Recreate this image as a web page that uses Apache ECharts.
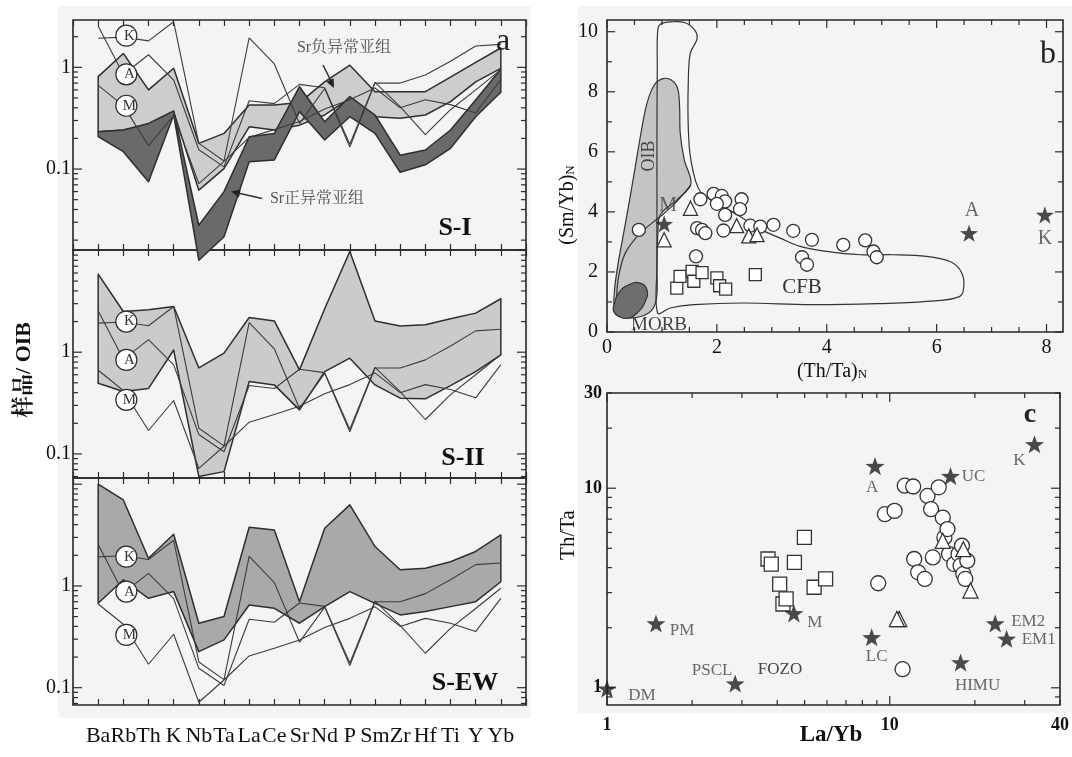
<!DOCTYPE html>
<html><head><meta charset="utf-8">
<script src="https://cdn.jsdelivr.net/npm/echarts@6/dist/echarts.min.js"></script>
<style>html,body{margin:0;padding:0;background:#fff}#c{width:1072px;height:757px}</style>
</head><body><div id="c"></div>
<script>
// ---------------- DATA ----------------
const elements = ['Ba','Rb','Th','K','Nb','Ta','La','Ce','Sr','Nd','P','Sm','Zr','Hf','Ti','Y','Yb'];
// reference curves (sample / OIB)
const refK = [1.93,1.98,1.82,2.81,0.179,0.12,1.95,1.08,0.28,0.62,0.165,0.70,0.70,0.84,1.15,1.62,1.68];
const refA = [2.55,0.85,1.33,0.75,0.155,0.105,0.47,0.44,0.68,0.63,0.175,0.71,0.41,0.218,0.383,0.60,0.95];
const refM = [0.665,0.42,0.17,0.335,0.072,0.119,0.205,0.244,0.294,0.39,0.48,0.626,0.40,0.48,0.43,0.356,0.756];
// S-I : Sr negative subgroup (light) and Sr positive subgroup (dark)
const s1NegUpper = [0.81,1.37,0.60,0.98,0.179,0.224,0.426,0.426,0.45,0.72,1.05,0.576,0.576,0.576,0.80,1.12,1.55];
const s1NegLower = [0.233,0.242,0.27,0.367,0.062,0.101,0.26,0.242,0.27,0.34,0.496,0.327,0.315,0.34,0.46,0.72,0.977];
const s1PosUpper = [0.233,0.242,0.281,0.372,0.028,0.060,0.208,0.224,0.645,0.292,0.515,0.34,0.137,0.154,0.242,0.477,0.963];
const s1PosLower = [0.208,0.148,0.075,0.34,0.0127,0.0216,0.118,0.123,0.367,0.193,0.327,0.224,0.093,0.11,0.16,0.327,0.568];
// S-II band
const s2Upper = [5.85,2.51,2.61,2.81,0.70,0.98,2.19,2.03,0.67,2.67,9.77,2.03,1.81,1.86,2.13,2.42,3.35];
const s2Lower = [0.496,0.41,0.44,1.05,0.060,0.067,0.515,0.477,0.271,0.645,0.873,0.477,0.353,0.348,0.47,0.645,0.94];
// S-EW band
const s3Upper = [10.0,7.0,1.87,3.22,0.43,0.50,3.77,3.55,0.70,3.69,6.26,2.44,1.44,1.49,1.73,2.18,3.17];
const s3Lower = [0.675,1.15,0.756,0.88,0.226,0.295,0.65,0.603,0.43,0.626,0.88,0.675,0.519,0.56,0.626,0.70,1.10];
// circled K / A / M tags (value at Rb) per panel
const tagNames = ['K','A','M'];
const tagS1 = [2.05,0.853,0.419];
const tagS2 = [2.0,0.84,0.34];
const tagS3 = [1.94,0.88,0.33];
const leftTickLabels = ['0.1','1'];

// panel b : (Th/Ta)N vs (Sm/Yb)N
const bCircles = [[0.58,3.40],[1.70,4.42],[1.94,4.60],[2.09,4.53],[2.15,4.35],[2.00,4.27],[2.45,4.42],[2.42,4.09],[2.15,3.90],[1.64,3.46],[1.73,3.40],[1.79,3.29],[2.12,3.38],[2.61,3.54],[2.79,3.51],[3.03,3.57],[3.39,3.37],[3.73,3.07],[4.30,2.90],[4.70,3.05],[4.85,2.68],[4.91,2.49],[3.55,2.49],[3.64,2.24],[1.62,2.52]];
const bTriangles = [[1.52,4.12],[1.04,3.07],[2.36,3.54],[2.58,3.20],[2.73,3.24]];
const bSquares = [[1.27,1.46],[1.33,1.85],[1.55,2.02],[1.58,1.69],[1.73,1.98],[2.00,1.80],[2.05,1.54],[2.16,1.43],[2.70,1.91]];
const bStarNames = ['M','A','K'];
const bStars = [[1.04,3.60],[6.59,3.29],[7.97,3.90]];
const bFieldOIB = [[0.152,0.687],[0.133,1.297],[0.194,2.184],[0.303,3.293],[0.412,4.401],[0.515,5.510],[0.618,6.619],[0.727,7.616],[0.861,8.226],[1.018,8.437],[1.170,8.392],[1.285,8.115],[1.321,7.506],[1.333,6.619],[1.406,5.732],[1.527,4.933],[1.273,4.401],[0.970,3.902],[0.927,3.293],[0.909,2.184],[0.897,1.075],[0.758,0.632],[0.364,0.466]];
const bFieldCFB = [[0.921,0.632],[0.909,2.184],[0.909,4.401],[0.909,6.619],[0.915,8.836],[0.921,10.0],[0.970,10.25],[1.182,10.33],[1.424,10.3],[1.606,10.03],[1.636,9.745],[1.515,9.279],[1.479,8.282],[1.479,6.840],[1.527,5.732],[1.697,4.678],[2.061,4.235],[2.424,3.847],[2.788,3.426],[3.152,3.126],[3.515,2.849],[4.0,2.683],[4.606,2.572],[5.212,2.572],[5.818,2.517],[6.242,2.350],[6.424,2.073],[6.497,1.630],[6.424,1.186],[5.818,1.020],[4.909,0.942],[3.697,0.909],[2.485,0.965],[1.576,0.909],[1.152,0.798]];
const bFieldEdge = [[0.170,1.020],[0.212,1.851],[0.333,2.627],[0.606,3.293],[0.970,3.847],[1.242,4.290],[1.527,4.900]];
const bFieldMORB = [[0.121,0.854],[0.212,1.297],[0.394,1.574],[0.606,1.630],[0.727,1.408],[0.697,1.020],[0.576,0.687],[0.394,0.466],[0.212,0.521],[0.121,0.687]];
const bXTickLabels = [0,2,4,6,8];
const bYTickLabels = [0,2,4,6,8,10];

// panel c : La/Yb vs Th/Ta (log-log)
const cStarNames = ['DM','PM','PSCL','M','LC','A','UC','K','EM2','EM1','HIMU'];
const cStars = [[1.0,0.99],[1.49,2.10],[2.84,1.05],[4.58,2.36],[8.63,1.79],[8.87,12.9],[16.4,11.5],[32.5,16.6],[23.6,2.10],[25.9,1.76],[17.8,1.34]];
const cCircles = [[9.1,3.34],[9.61,7.41],[10.4,7.7],[11.1,1.24],[11.3,10.3],[12.1,10.2],[12.2,4.42],[12.6,3.79],[13.3,3.51],[13.6,9.15],[14.0,7.85],[14.2,4.5],[14.9,10.1],[15.4,7.13],[15.6,5.67],[16.0,6.24],[16.2,4.68],[16.9,4.17],[17.5,4.68],[17.8,4.09],[18.0,5.15],[18.2,3.72],[18.8,4.33],[18.5,3.51]];
const cTriangles = [[15.4,5.45],[18.2,4.95],[19.3,3.07],[10.8,2.21],[10.6,2.21]];
const cSquares = [[3.71,4.42],[3.81,4.17],[4.99,5.67],[4.60,4.25],[4.08,3.31],[5.40,3.19],[5.93,3.51],[4.19,2.63],[4.30,2.79]];
const cXTickLabels = ['1','10','40'];
const cYTickLabels = ['1','10','30'];

// ---------------- STYLE ----------------
const SERIF = '"Liberation Serif","Times New Roman",serif';
const CJK = '"Liberation Serif","Noto Serif CJK SC","Noto Sans CJK SC",serif';
const INK = '#2b2b2b';
const LINE = '#3c3c3c';
const NOFILL = 'rgba(0,0,0,0)';
const bLabelOffset = {M:[4,-18], A:[3,-22], K:[0,24]};
const cLabelOffset = {DM:[35,7], PM:[26,7], PSCL:[-23,-13], M:[21,9], LC:[5,19], A:[-3,21], UC:[23,0], K:[-15,16], EM2:[33,-2], EM1:[32,1], HIMU:[17,23]};
const STAR = 'path://M0,-10 L2.35,-3.24 L9.51,-3.09 L3.8,1.24 L5.88,8.09 L0,4 L-5.88,8.09 L-3.8,1.24 L-9.51,-3.09 L-2.35,-3.24 Z';

const cats = [' '].concat(elements, ['  ']);
const leftPanels = [
  {top:20, height:230, min:0.016, max:2.92},
  {top:250, height:228, min:0.058, max:10.1},
  {top:478, height:227, min:0.0676, max:11.5}
];

function near(v, t){ return Math.abs(v - t) < 1e-6 * Math.max(1, Math.abs(t)); }
function logLabel(list){
  return function(v){ for (const s of list){ if (near(v, parseFloat(s))) return s; } return ''; };
}
function decadeTicks(min, max){
  const out = [];
  for (let d = -3; d <= 2; d++) for (let m = 1; m <= 9; m++){
    const v = m * Math.pow(10, d);
    if (v >= min * 0.9999 && v <= max * 1.0001) out.push([v, m === 1 ? 1 : 0]);
  }
  return out;
}
function tickSeries(xi, yi, dir, ref, ticks, lenMaj, lenMin){
  return {
    type:'custom', xAxisIndex:xi, yAxisIndex:yi, silent:true, z:6, clip:false,
    data: ticks.map(t => dir === 'y' ? [ref, t[0], t[1]] : [t[0], ref, t[1]]),
    renderItem: function(params, api){
      const cs = params.coordSys;
      const p = api.coord([api.value(0), api.value(1)]);
      const len = api.value(2) ? lenMaj : lenMin;
      const st = {stroke:INK, lineWidth:1.2};
      if (dir === 'y'){
        if (p[1] < cs.y - 1 || p[1] > cs.y + cs.height + 1) return null;
        return {type:'group', children:[
          {type:'line', shape:{x1:cs.x, y1:p[1], x2:cs.x+len, y2:p[1]}, style:st},
          {type:'line', shape:{x1:cs.x+cs.width-len, y1:p[1], x2:cs.x+cs.width, y2:p[1]}, style:st}]};
      }
      if (p[0] < cs.x - 1 || p[0] > cs.x + cs.width + 1) return null;
      return {type:'group', children:[
        {type:'line', shape:{x1:p[0], y1:cs.y+cs.height, x2:p[0], y2:cs.y+cs.height-len}, style:st},
        {type:'line', shape:{x1:p[0], y1:cs.y, x2:p[0], y2:cs.y+len}, style:st}]};
    }
  };
}
function polySeries(xi, yi, pts, style, z, open, smooth){
  return {
    type:'custom', xAxisIndex:xi, yAxisIndex:yi, silent:true, z:z, clip:false,
    data:[pts[0]],
    renderItem: function(params, api){
      return {type: open ? 'polyline' : 'polygon',
        shape:{points: pts.map(p => api.coord(p)), smooth: smooth || 0},
        style: style};
    }
  };
}
function bandSeries(xi, yi, upper, lower, fill, z){
  const pts = upper.map((v,i) => [i+1, v]).concat(lower.map((v,i) => [i+1, v]).reverse());
  return polySeries(xi, yi, pts, {fill:fill, stroke:'#2e2e2e', lineWidth:1.5, lineJoin:'round'}, z, false, 0);
}
function refLine(xi, yi, vals){
  return {type:'line', xAxisIndex:xi, yAxisIndex:yi, symbol:'none', silent:true, z:4,
    data: vals.map((v,i) => [i+1, v]),
    lineStyle:{color:LINE, width:1.1}};
}
function tagSeries(xi, yi, vals){
  return {type:'scatter', xAxisIndex:xi, yAxisIndex:yi, silent:true, z:8,
    symbol:'circle', symbolSize:21, symbolOffset:[3,0],
    itemStyle:{color:'#fff', borderColor:INK, borderWidth:1.2, opacity:1},
    label:{show:true, position:'inside', offset:[3,0], formatter:'{b}', fontFamily:SERIF, fontSize:15, color:'#333'},
    data: vals.map((v,i) => ({name:tagNames[i], value:[2, v]}))};
}
function openMarks(xi, yi, pts, symbol, size){
  return {type:'scatter', xAxisIndex:xi, yAxisIndex:yi, silent:true, z:7, symbol:symbol, symbolSize:size,
    itemStyle:{color:'#fff', borderColor:'#333', borderWidth:1.3, opacity:1},
    data: pts};
}
function starMarks(xi, yi, pts, names, offsets, size, fontSize){
  return {type:'scatter', xAxisIndex:xi, yAxisIndex:yi, silent:true, z:8, symbol:STAR, symbolSize:size, symbolKeepAspect:true,
    itemStyle:{color:'#1e1e1e'},
    label:{show:true, position:'inside', formatter:'{b}', fontFamily:SERIF, fontSize:fontSize, color:'#444'},
    data: pts.map((p,i) => ({name:names[i], value:p, label:{offset:offsets[names[i]]}}))};
}

// ---------------- GRIDS & AXES ----------------
const grids = leftPanels.map(p => ({left:73, width:453, top:p.top, height:p.height, show:true, borderColor:'#262626', borderWidth:1.6}));
grids.push({left:607, width:456, top:20, height:312, show:true, borderColor:'#262626', borderWidth:1.6});
grids.push({left:607, width:456, top:393, height:312, show:true, borderColor:'#262626', borderWidth:1.6});

const xAxes = [], yAxes = [];
leftPanels.forEach((p, gi) => {
  [['bottom', gi === 2], ['top', false]].forEach(([pos, lab]) => {
    xAxes.push({type:'category', gridIndex:gi, position:pos, data:cats, boundaryGap:false,
      axisLine:{show:false}, splitLine:{show:false},
      axisTick:{show:true, inside:true, length:6, lineStyle:{color:INK, width:1.2}},
      axisLabel:{show:lab, interval:0, fontFamily:SERIF, fontSize:22, color:'#111', margin:20}});
  });
  yAxes.push({type:'log', logBase:10, gridIndex:gi, min:p.min, max:p.max,
    axisLine:{show:false}, axisTick:{show:false}, splitLine:{show:false},
    axisLabel:{fontFamily:SERIF, fontSize:20, color:'#111', margin:2, formatter:logLabel(leftTickLabels)}});
});
// panel b
xAxes.push({type:'value', gridIndex:3, min:0, max:8.3, interval:2, position:'bottom',
  axisLine:{show:false}, axisTick:{show:false}, splitLine:{show:false},
  axisLabel:{fontFamily:SERIF, fontSize:20, color:'#111', margin:6,
    formatter: v => bXTickLabels.some(t => near(v, t)) ? String(Math.round(v)) : ''}});
yAxes.push({type:'value', gridIndex:3, min:0, max:10.39, interval:2,
  axisLine:{show:false}, axisTick:{show:false}, splitLine:{show:false},
  axisLabel:{fontFamily:SERIF, fontSize:20, color:'#111', margin:9,
    formatter: v => bYTickLabels.some(t => near(v, t)) ? String(Math.round(v)) : ''}});
// panel c
xAxes.push({type:'log', logBase:10, gridIndex:4, min:1, max:40,
  axisLine:{show:false}, axisTick:{show:false}, splitLine:{show:false},
  axisLabel:{fontFamily:SERIF, fontSize:18, fontWeight:'bold', color:'#111', margin:11, formatter:logLabel(cXTickLabels)}});
yAxes.push({type:'log', logBase:10, gridIndex:4, min:0.82, max:30,
  axisLine:{show:false}, axisTick:{show:false}, splitLine:{show:false},
  axisLabel:{fontFamily:SERIF, fontSize:18, fontWeight:'bold', color:'#111', margin:5, formatter:logLabel(cYTickLabels)}});

// ---------------- SERIES ----------------
const series = [];
series.push(bandSeries(0, 0, s1NegUpper, s1NegLower, '#cdcdcd', 2));
series.push(bandSeries(0, 0, s1PosUpper, s1PosLower, '#6a6a6a', 3));
series.push(bandSeries(2, 1, s2Upper, s2Lower, '#cbcbcb', 2));
series.push(bandSeries(4, 2, s3Upper, s3Lower, '#a9a9a9', 2));
[[0,0],[2,1],[4,2]].forEach(([xi, yi], k) => {
  series.push(refLine(xi, yi, refK));
  series.push(refLine(xi, yi, refA));
  series.push(refLine(xi, yi, refM));
  series.push(tagSeries(xi, yi, [tagS1, tagS2, tagS3][k]));
  series.push(tickSeries(xi, yi, 'y', 1, decadeTicks(leftPanels[k].min, leftPanels[k].max), 9, 5));
});

// panel b
const bXT = []; for (let v = 0; v <= 8.3; v += 0.5) bXT.push([Math.round(v*10)/10, Math.abs(v % 2) < 1e-9 ? 1 : 0]);
const bYT = []; for (let v = 0; v <= 10; v += 1) bYT.push([v, v % 2 === 0 ? 1 : 0]);
series.push(polySeries(6, 3, bFieldOIB, {fill:'#c4c4c4', stroke:'#333', lineWidth:1.2}, 1, false, 0.35));
series.push(polySeries(6, 3, bFieldCFB, {fill:NOFILL, stroke:'#333', lineWidth:1.2}, 2, false, 0.35));
series.push(polySeries(6, 3, bFieldEdge, {fill:NOFILL, stroke:'#333', lineWidth:1.2}, 2, true, 0.35));
series.push(polySeries(6, 3, bFieldMORB, {fill:'#6e6e6e', stroke:'#333', lineWidth:1.2}, 3, false, 0.5));
series.push(openMarks(6, 3, bSquares, 'rect', 12));
series.push(openMarks(6, 3, bCircles, 'circle', 13));
series.push(openMarks(6, 3, bTriangles, 'triangle', 14));
series.push(starMarks(6, 3, bStars, bStarNames, bLabelOffset, 18, 20));
series.push(tickSeries(6, 3, 'x', 5, bXT, 8, 5));
series.push(tickSeries(6, 3, 'y', 4, bYT, 8, 5));

// panel c
series.push(openMarks(7, 4, cSquares, 'rect', 14));
series.push(openMarks(7, 4, cCircles, 'circle', 15));
series.push(openMarks(7, 4, cTriangles, 'triangle', 15));
series.push(starMarks(7, 4, cStars, cStarNames, cLabelOffset, 19, 17));
series.push(tickSeries(7, 4, 'x', 1, decadeTicks(1, 40), 9, 5));
series.push(tickSeries(7, 4, 'y', 1, decadeTicks(0.82, 30), 9, 5));

// ---------------- TEXT ----------------
function txt(x, y, text, size, opts){
  opts = opts || {};
  return {type:'text', x:x, y:y, rotation:opts.rot || 0, z:20, silent:true,
    style:{text:text, fontFamily:opts.family || SERIF, fontSize:size, fontWeight:opts.bold ? 'bold' : 'normal',
      fill:opts.color || '#111', align:'center', verticalAlign:'middle', rich:opts.rich}};
}
const graphics = [
  {type:'rect', silent:true, z:-10, shape:{x:58, y:6, width:473, height:712}, style:{fill:'#f4f4f4'}},
  {type:'rect', silent:true, z:-10, shape:{x:578, y:6, width:494, height:707}, style:{fill:'#f4f4f4'}},
  txt(24, 370, '样品/ OIB', 22, {rot:Math.PI/2, bold:true, family:CJK}),
  txt(455, 228, 'S-I', 26, {bold:true}),
  txt(463, 458, 'S-II', 26, {bold:true}),
  txt(465, 683, 'S-EW', 26, {bold:true}),
  txt(503, 42, 'a', 32, {color:'#222'}),
  txt(344, 48, 'Sr负异常亚组', 16, {family:CJK, color:'#555'}),
  txt(317, 199, 'Sr正异常亚组', 16, {family:CJK, color:'#555'}),
  {type:'line', silent:true, z:20, shape:{x1:323, y1:65, x2:331, y2:81}, style:{stroke:'#333', lineWidth:1.6}},
  {type:'polygon', silent:true, z:20, shape:{points:[[334,88],[326.4,81.8],[333.6,78.2]]}, style:{fill:'#222'}},
  {type:'line', silent:true, z:20, shape:{x1:262, y1:198.5, x2:238, y2:193}, style:{stroke:'#333', lineWidth:1.6}},
  {type:'polygon', silent:true, z:20, shape:{points:[[231,191.5],[240.7,189.6],[238.9,197.4]]}, style:{fill:'#222'}},
  txt(1048, 55, 'b', 32, {color:'#222'}),
  txt(649, 156, 'OIB', 18, {rot:Math.PI/2, color:'#444'}),
  txt(802, 287, 'CFB', 21, {color:'#333'}),
  txt(659, 325, 'MORB', 19, {color:'#444'}),
  txt(568, 205, '(Sm/Yb){n|N}', 20, {rot:Math.PI/2, rich:{n:{fontSize:13, fontFamily:SERIF, padding:[6,0,0,0]}}}),
  txt(832, 372, '(Th/Ta){n|N}', 20, {rich:{n:{fontSize:13, fontFamily:SERIF, padding:[6,0,0,0]}}}),
  txt(1030, 415, 'c', 28, {bold:true, color:'#222'}),
  txt(780, 670, 'FOZO', 17, {color:'#444'}),
  txt(568, 535, 'Th/Ta', 21, {rot:Math.PI/2}),
  txt(831, 735, 'La/Yb', 23, {bold:true})
];

const chart = echarts.init(document.getElementById('c'), null, {renderer:'canvas', width:1072, height:757});
chart.setOption({
  animation:false,
  backgroundColor:'#ffffff',
  grid: grids,
  xAxis: xAxes,
  yAxis: yAxes,
  series: series,
  graphic: graphics
});
</script>
</body></html>
